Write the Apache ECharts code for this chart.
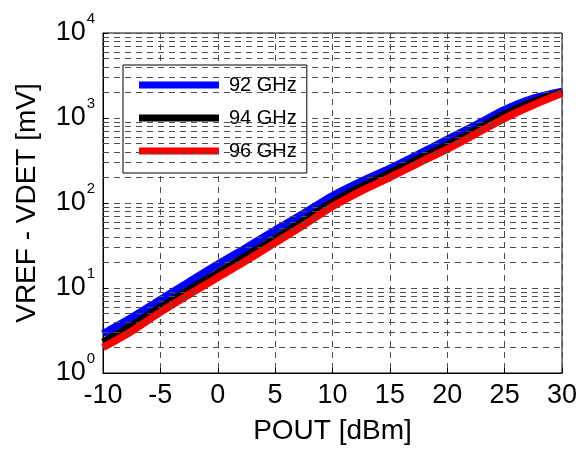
<!DOCTYPE html>
<html>
<head>
<meta charset="utf-8">
<script src="https://cdn.jsdelivr.net/npm/echarts@6/dist/echarts.min.js"></script>
<style>
    html, body { margin: 0; padding: 0; background: #fff; }
    #chart { width: 581px; height: 450px; }
</style>
</head>
<body>
<div id="chart"></div>
<script>
const pout = [-10, -7.5, -5, -2.5, 0, 2.5, 5, 7.5, 10, 12.5, 15, 17.5, 20, 22.5, 25, 27.5, 30];
const ghz92 = [2.9, 4.5, 7.3, 11.8, 19, 30, 48, 76, 122, 180, 255, 375, 560, 830, 1250, 1700, 2050];
const ghz94 = [2.3, 3.6, 5.9, 9.5, 15, 24, 38, 62, 102, 155, 225, 330, 480, 720, 1100, 1550, 2000];
const ghz96 = [2.0, 3.1, 5.2, 8.4, 13.3, 21, 34, 55, 91, 138, 200, 295, 430, 650, 990, 1420, 1950];
const seriesNames = ['92 GHz', '94 GHz', '96 GHz'];
const seriesColors = ['#0000ff', '#000000', '#ff0000'];
const minorMultipliers = [2, 3, 4, 5, 6, 7, 8, 9];
const decades = [1, 10, 100, 1000];

const font = 'Liberation Sans, Arial, sans-serif';
const gridDash = { type: [6, 5], color: '#4d4d4d', width: 1 };

// minor log grid lines (2..9 in each decade)
const minorLines = [];
decades.forEach(d => minorMultipliers.forEach(m => minorLines.push({ yAxis: d * m })));

function toPairs(values) {
    return pout.map((x, i) => [x, values[i]]);
}

const chart = echarts.init(document.getElementById('chart'));
const lineSeries = [ghz92, ghz94, ghz96].map((vals, i) => ({
    name: seriesNames[i],
    type: 'line',
    data: toPairs(vals),
    showSymbol: false,
    smooth: 0.3,
    color: seriesColors[i],
    lineStyle: { width: 7.5, color: seriesColors[i] },
    z: 3,
    animation: false
}));

chart.setOption({
    animation: false,
    grid: {
        left: 103, top: 33, right: 19, bottom: 75,
        show: true, borderColor: '#000', borderWidth: 1, backgroundColor: '#fff'
    },
    legend: {
        data: seriesNames,
        orient: 'vertical',
        left: 123, top: 65,
        padding: [10, 10, 12, 16],
        itemGap: 13,
        itemWidth: 80, itemHeight: 7,
        icon: 'rect',
        formatter: name => '{t|' + name + '}',
        backgroundColor: '#fff',
        borderColor: '#000', borderWidth: 1,
        textStyle: {
            fontFamily: font, fontSize: 20, color: '#000',
            rich: { t: { fontFamily: font, fontSize: 20, color: '#000', padding: [0, 0, 0, 5] } }
        }
    },
    xAxis: {
        type: 'value',
        min: -10, max: 30, interval: 5,
        name: 'POUT [dBm]',
        nameLocation: 'middle',
        nameGap: 44,
        nameTextStyle: { fontFamily: font, fontSize: 28, color: '#000' },
        axisLine: { show: true, onZero: false, lineStyle: { color: '#000' } },
        axisTick: { inside: true, length: 5, lineStyle: { color: '#000' } },
        axisLabel: { fontFamily: font, fontSize: 27, color: '#000', margin: 9 },
        splitLine: { show: true, lineStyle: gridDash }
    },
    yAxis: {
        type: 'log',
        logBase: 10,
        min: 1, max: 10000,
        name: 'VREF - VDET [mV]',
        nameLocation: 'middle',
        nameGap: 62,
        nameTextStyle: { fontFamily: font, fontSize: 28, color: '#000' },
        axisLine: { show: true, onZero: false, lineStyle: { color: '#000' } },
        axisTick: { inside: true, length: 5, lineStyle: { color: '#000' } },
        axisLabel: {
            margin: 8,
            formatter: v => '{b|10}{s|' + Math.round(Math.log10(v)) + '}',
            rich: {
                b: { fontFamily: font, fontSize: 27, color: '#000' },
                s: { fontFamily: font, fontSize: 15, color: '#000', padding: [0, 0, 28, 1] }
            }
        },
        splitLine: { show: true, lineStyle: gridDash }
    },
    series: [{
        name: 'minor',
        type: 'line',
        data: [],
        silent: true,
        z: 1,
        markLine: {
            silent: true,
            symbol: ['none', 'none'],
            label: { show: false },
            lineStyle: gridDash,
            data: minorLines,
            animation: false
        }
    }].concat(lineSeries)
});
</script>
</body>
</html>
